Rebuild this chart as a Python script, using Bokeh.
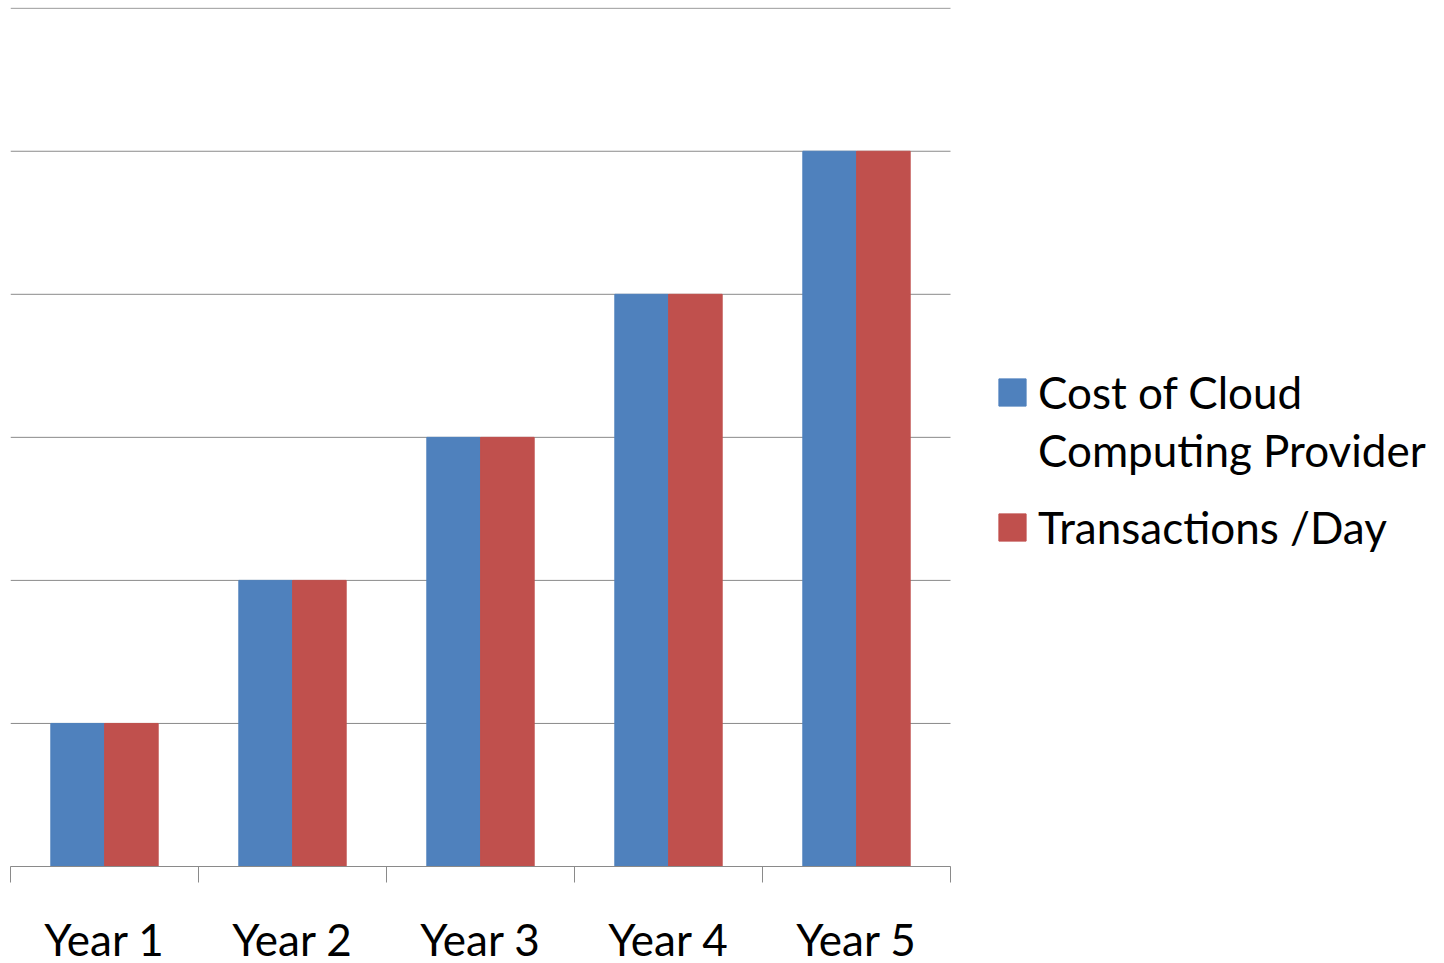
import numpy as np
from bokeh.plotting import figure
from bokeh.models import FixedTicker, Legend, LegendItem, ColumnDataSource, Range1d
from bokeh.embed import file_html
from bokeh.resources import INLINE

categories = ["Year 1", "Year 2", "Year 3", "Year 4", "Year 5"]
cost = [1, 2, 3, 4, 5]
transactions = [1, 2, 3, 4, 5]
series_names = ["Cost of Cloud", "Computing Provider", "Transactions /Day"]
colors = ["#4F81BD", "#C0504D"]
y_ticks = [0, 1, 2, 3, 4, 5, 6]

n = len(categories)
centers = np.arange(n) + 0.5
src = ColumnDataSource(dict(
    x1=centers - 0.143, x2=centers + 0.143, cost=cost, trans=transactions))

FONT = "Lato"
GRAY = "#8a8a8a"
FS = "44px"

PLOT_W = 940      # pixel width of the category area
FRAME_W = 1430    # frame extends under the legend
x_end = n * FRAME_W / PLOT_W

p = figure(frame_width=FRAME_W, frame_height=859,
           x_range=Range1d(0, x_end), y_range=Range1d(0, 6.005),
           output_backend="svg", toolbar_location=None,
           min_border_left=10, min_border_top=7, min_border_right=0,
           min_border_bottom=10)

# horizontal gridlines spanning only the category area
p.segment(x0=[0] * len(y_ticks), x1=[n] * len(y_ticks), y0=y_ticks, y1=y_ticks,
          line_color=GRAY, line_width=1, level="underlay")

r1 = p.vbar(x="x1", top="cost", width=0.285, source=src,
            fill_color=colors[0], line_color=colors[0])
r2 = p.vbar(x="x2", top="trans", width=0.285, source=src,
            fill_color=colors[1], line_color=colors[1])
blank = p.vbar(x=[], top=[], width=0.1, fill_alpha=0, line_alpha=0)

p.outline_line_color = None
p.xgrid.visible = False
p.ygrid.visible = False
p.yaxis.visible = False

p.xaxis.ticker = FixedTicker(ticks=list(centers), minor_ticks=list(range(n + 1)))
p.xaxis.bounds = (0, n)
p.xaxis.major_label_overrides = {float(c): cat for c, cat in zip(centers, categories)}
p.xaxis.axis_line_color = GRAY
p.xaxis.minor_tick_line_color = GRAY
p.xaxis.minor_tick_out = 16
p.xaxis.minor_tick_in = 0
p.xaxis.major_tick_out = 0
p.xaxis.major_tick_in = 0
p.xaxis.major_label_standoff = 30
p.xaxis.major_label_text_font = FONT
p.xaxis.major_label_text_font_size = FS
p.xaxis.major_label_text_color = "black"

common = dict(margin=0, padding=0, glyph_width=34, glyph_height=34, label_standoff=9,
              label_text_font=FONT, label_text_font_size=FS, label_height=53,
              label_text_color="black", border_line_color=None,
              background_fill_alpha=0)

legend_a = Legend(items=[LegendItem(label=series_names[0], renderers=[r1]),
                         LegendItem(label=series_names[1], renderers=[blank])],
                  location=(985, 390), spacing=5, **common)
legend_b = Legend(items=[LegendItem(label=series_names[2], renderers=[r2])],
                  location=(985, 313), spacing=0, **common)
p.add_layout(legend_a)
p.add_layout(legend_b)

open("out.html", "w").write(file_html(p, INLINE))
